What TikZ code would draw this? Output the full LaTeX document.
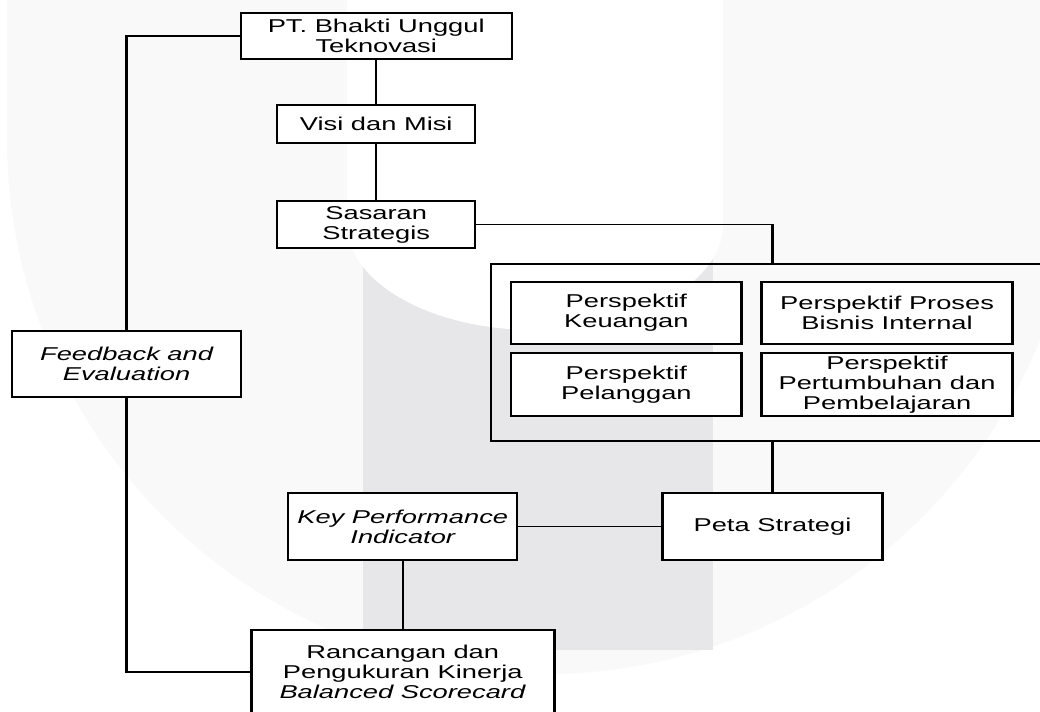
\documentclass[tikz,border=0pt]{standalone}
\usepackage{fontspec}
\setmainfont{Liberation Sans}
\usepackage{tikz}

\definecolor{wmlight}{RGB}{249,249,249}
\definecolor{wmdark}{RGB}{231,231,233}
\newcommand{\boxfont}{\fontsize{13.2}{14.2}\selectfont}

\tikzset{
	box/.style={draw, line width=1.1pt, fill=white, align=center, inner sep=0pt, font=\boxfont},
	itbox/.style={box, font=\boxfont\itshape},
	perspframe/.style={draw, line width=0.9pt, inner sep=0pt},
	link/.style={line width=1.1pt}
}

\begin{document}
\begin{tikzpicture}[x=0.025cm, y=-0.025cm]
	\useasboundingbox (0,0) rectangle (1040,711);
	\fill[white] (0,0) rectangle (1040,711);

	%Watermark
	\fill[wmlight] (7,0) -- (7,138) arc[start angle=180, end angle=360, radius=13.4cm] -- (1079,0) -- cycle;
	\fill[wmdark] (363,200) rectangle (713,650);
	\fill[white] (347,0) -- (347,224) arc[start angle=180, end angle=360, x radius=4.7cm, y radius=2.65cm] -- (723,0) -- cycle;

	%Diagram (stretched sideways like the original)
	\begin{scope}[x=0.0170068cm, transform canvas={xscale=1.47}]
	%Boxes
	\node[box, minimum width=4.609cm, minimum height=1.15cm] (pt) at (376,36) {PT. Bhakti Unggul\\Teknovasi};
	\node[box, minimum width=3.367cm, minimum height=0.95cm] (visi) at (376,124) {Visi dan Misi};
	\node[box, minimum width=3.367cm, minimum height=1.175cm] (sasaran) at (376,224.5) {Sasaran\\Strategis};
	\node[itbox, minimum width=3.895cm, minimum height=1.65cm] (feedback) at (126.5,364) {Feedback and\\Evaluation};

	\node[perspframe, minimum width=9.558cm, minimum height=4.425cm] (persp) at (772,352.5) {};
	\node[box, minimum width=3.912cm, minimum height=1.55cm] (keuangan) at (626,313) {Perspektif\\Keuangan};
	\node[box, minimum width=4.269cm, minimum height=1.55cm] (proses) at (886.5,313) {Perspektif Proses\\Bisnis Internal};
	\node[box, minimum width=3.912cm, minimum height=1.575cm] (pelanggan) at (626,384.5) {Perspektif\\Pelanggan};
	\node[box, minimum width=4.269cm, minimum height=1.575cm] (pertumbuhan) at (886.5,384.5) {Perspektif\\Pertumbuhan dan\\Pembelajaran};

	\node[itbox, minimum width=3.895cm, minimum height=1.675cm] (kpi) at (402.5,526.5) {Key Performance\\Indicator};
	\node[box, minimum width=3.741cm, minimum height=1.675cm] (peta) at (772,526.5) {Peta Strategi};
	\node[box, line width=1.4pt, minimum width=5.153cm, minimum height=2.1cm] (rancangan) at (402.5,672) {Rancangan dan\\Pengukuran Kinerja\\\textit{Balanced Scorecard}};

	%Lines
	\draw[link] (pt.south) -- (visi.north);
	\draw[link] (visi.south) -- (sasaran.north);
	\draw[link] (sasaran.east) -| (persp.north);
	\draw[link] (persp.south) -- (peta.north);
	\draw[link] (kpi.east) -- (peta.west);
	\draw[link] (kpi.south) -- (rancangan.north);
	\draw[link] (pt.west) -| (feedback.north);
	\draw[link] (feedback.south) |- (rancangan.west);
	\end{scope}
\end{tikzpicture}
\end{document}
